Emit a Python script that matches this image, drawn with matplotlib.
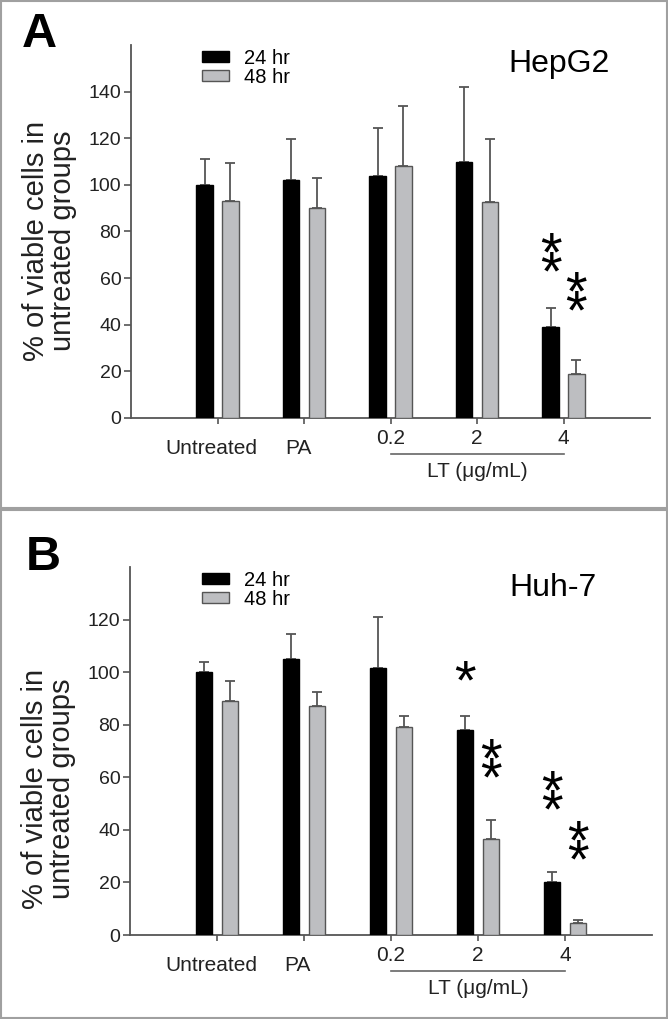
import numpy as np
import matplotlib
matplotlib.use("Agg")
import matplotlib.pyplot as plt
from matplotlib.transforms import blended_transform_factory, ScaledTranslation
from matplotlib.lines import Line2D

plt.rcParams['font.family'] = ['Liberation Sans', 'DejaVu Sans']

# ---- data ----
groups = ["Untreated", "PA", "0.2", "2", "4"]
series_names = ["24 hr", "48 hr"]

hepg2_24 = [100, 102, 104, 110, 39]
hepg2_24_err = [11, 17.5, 20.5, 32, 8]
hepg2_48 = [93, 90, 108, 92.5, 19]
hepg2_48_err = [16.5, 13, 26, 27, 6]
# (group index, series index, mark, height of the lowest star)
hepg2_stars = [(4, 0, "**", 67), (4, 1, "**", 50.5)]

huh7_24 = [100, 105, 101.5, 78, 20]
huh7_24_err = [4, 9.5, 19.5, 5.5, 4]
huh7_48 = [89, 87, 79, 36.7, 4.4]
huh7_48_err = [7.5, 5.5, 4.5, 7, 1.2]
huh7_stars = [(3, 0, "*", 100.6), (3, 1, "**", 63.8),
              (4, 0, "**", 51.6), (4, 1, "**", 32.6)]

BLACK = "#000000"
GRAY = "#bdbec1"
DARK = "#555555"
TXT = "#222222"
W, H = 668, 1019
STAR_FS = 40


def px_axes(fig, left, top, right, bottom):
    return fig.add_axes([left / W, 1 - bottom / H, (right - left) / W, (bottom - top) / H])


def draw_panel(ax, v24, e24, v48, e48, stars, ymax, yticks, cell, label_y, cell_y):
    x = np.arange(len(groups))
    off, bw = 0.15, 0.19
    b1 = ax.bar(x - off, v24, bw, color=BLACK, edgecolor=BLACK, linewidth=1, label=series_names[0], zorder=3)
    b2 = ax.bar(x + off, v48, bw, color=GRAY, edgecolor=DARK, linewidth=1, label=series_names[1], zorder=3)
    ax.errorbar(x - off, v24, yerr=[np.zeros(len(v24)), e24], fmt="none", ecolor=DARK,
                elinewidth=1.3, capsize=3.5, capthick=1.3, zorder=2)
    ax.errorbar(x + off, v48, yerr=[np.zeros(len(v48)), e48], fmt="none", ecolor=DARK,
                elinewidth=1.3, capsize=3.5, capthick=1.3, zorder=2)

    ax.set_xlim(-1, 5)
    ax.set_ylim(0, ymax)
    ax.set_yticks(yticks)
    ax.set_xticks(x)
    ax.set_xticklabels([])
    for s in ["top", "right"]:
        ax.spines[s].set_visible(False)
    for s in ["left", "bottom"]:
        ax.spines[s].set_color(DARK)
        ax.spines[s].set_linewidth(1.3)
    ax.tick_params(axis="y", length=5, width=1.2, color=DARK, labelsize=14, pad=2, labelcolor=TXT)
    ax.tick_params(axis="x", length=4, width=1.2, color=DARK)

    # category labels below the axis
    tr = blended_transform_factory(ax.transData, ax.transAxes)
    for i, g in enumerate(groups):
        if i < 2:
            ax.annotate(g, (i - 0.07, 0), xycoords=tr, xytext=(0, -15), textcoords="offset points",
                        ha="center", va="top", fontsize=15, color=TXT)
        else:
            ax.annotate(g, (i, 0), xycoords=tr, xytext=(0, -8), textcoords="offset points",
                        ha="center", va="top", fontsize=15, color=TXT)
    ax.add_line(Line2D([2, 4], [0, 0], color="#666666", lw=1.2, clip_on=False,
                       transform=tr + ScaledTranslation(0, -0.36, ax.figure.dpi_scale_trans)))
    ax.annotate("LT (\u03bcg/mL)", (3, 0), xycoords=tr, xytext=(0, -32), textcoords="offset points",
                ha="center", va="top", fontsize=15, color=TXT)

    # significance marks
    for gi, si, mark, ylow in stars:
        xs = gi - off if si == 0 else gi + off
        ax.annotate("\n".join(mark), (xs, ylow), xytext=(0, -20), textcoords="offset points",
                    ha="center", va="baseline", fontsize=STAR_FS, linespacing=0.17, color=BLACK)

    ax.set_ylabel("% of viable cells in\nuntreated groups", fontsize=21, linespacing=0.95, color=TXT)
    ax.yaxis.set_label_coords(-0.104, label_y)

    ax.legend(handles=[b1, b2], loc="upper left", bbox_to_anchor=(0.137, 0.99), frameon=False,
              fontsize=14.5, handlelength=1.35, handleheight=0.4, labelspacing=0.0,
              handletextpad=0.75, borderpad=0, borderaxespad=0)
    ax.text(0.727, cell_y, cell, transform=ax.transAxes, ha="left", va="top", fontsize=23)


fig = plt.figure(figsize=(W / 100, H / 100), dpi=100)

axA = px_axes(fig, 131, 45, 650, 418)
draw_panel(axA, hepg2_24, hepg2_24_err, hepg2_48, hepg2_48_err, hepg2_stars,
           160, range(0, 141, 20), "HepG2", 0.475, 0.99)
axB = px_axes(fig, 130, 567, 652, 935)
draw_panel(axB, huh7_24, huh7_24_err, huh7_48, huh7_48_err, huh7_stars,
           140, range(0, 121, 20), "Huh-7", 0.397, 0.985)

fig.text(39 / W, 1 - 47 / H, "A", ha="center", va="baseline", fontsize=35, fontweight="bold")
fig.text(43 / W, 1 - 570 / H, "B", ha="center", va="baseline", fontsize=35, fontweight="bold")

# panel frames
border = "#a0a0a0"
for y0, y1 in [(1, 508), (510, 1018)]:
    fig.add_artist(plt.Rectangle((1 / W, 1 - y1 / H), (W - 2) / W, (y1 - y0) / H,
                                 transform=fig.transFigure, fill=False, edgecolor=border, lw=1.5))

fig.savefig("out.png", dpi=100)
